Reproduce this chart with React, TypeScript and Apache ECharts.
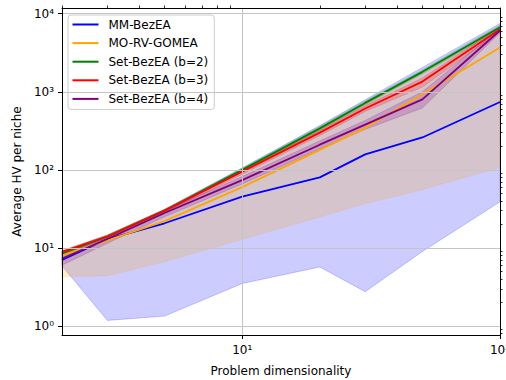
import React, { useEffect, useRef } from "react";
import * as echarts from "echarts";

const xs = [2, 3, 5, 10, 20, 30, 50, 100];

const names = ["MM-BezEA", "MO-RV-GOMEA", "Set-BezEA (b=2)", "Set-BezEA (b=3)", "Set-BezEA (b=4)"];
const colors = ["#0000ff", "#ffa500", "#008000", "#ff0000", "#800080"];
const bandColors = [
  "rgba(0,0,255,0.2)",
  "rgba(255,165,0,0.2)",
  "rgba(0,128,0,0.2)",
  "rgba(255,0,0,0.2)",
  "rgba(128,0,128,0.2)",
];

const mmMean = [7.0, 13.0, 20.7, 45.5, 80, 158, 260, 740];
const mmLow = [5.9, 1.18, 1.34, 3.5, 5.7, 2.75, 9, 39];
const mmHigh = [9.0, 14.5, 31, 106, 370, 790, 2050, 7500];

const moMean = [8.0, 12.5, 22, 60, 180, 345, 930, 3700];
const moLow = [4.3, 4.4, 6.7, 12.9, 25, 37, 56, 108];
const moHigh = [8.4, 14, 30, 98, 330, 700, 1750, 6600];

const b2Mean = [8.6, 14, 30, 100, 340, 720, 1800, 6700];
const b2Low = [8.1, 13.3, 28.5, 95, 320, 680, 1700, 6300];
const b2High = [9.1, 14.7, 31.5, 105, 360, 760, 1900, 7100];

const b3Mean = [8.9, 14, 30, 95, 300, 610, 1350, 6300];
const b3Low = [8.3, 13.2, 28, 88, 275, 560, 1150, 5900];
const b3High = [9.3, 14.6, 31, 100, 320, 660, 1500, 6700];

const b4Mean = [7.3, 13, 28, 74, 210, 380, 800, 6100];
const b4Low = [6.0, 11.5, 25, 66, 185, 330, 620, 5700];
const b4High = [8.4, 14, 30, 82, 235, 430, 1000, 6500];

const means = [mmMean, moMean, b2Mean, b3Mean, b4Mean];
const lows = [mmLow, moLow, b2Low, b3Low, b4Low];
const highs = [mmHigh, moHigh, b2High, b3High, b4High];

const xMajor = [10, 100];
const xMinor = [2, 3, 4, 5, 6, 7, 8, 9, 20, 30, 40, 50, 60, 70, 80, 90];
const yMajor = [1, 10, 100, 1000, 10000];
const yMinor = [
  0.8, 0.9, 2, 3, 4, 5, 6, 7, 8, 9, 20, 30, 40, 50, 60, 70, 80, 90,
  200, 300, 400, 500, 600, 700, 800, 900, 2000, 3000, 4000, 5000, 6000, 7000, 8000, 9000,
];
const sup = ["⁰", "¹", "²", "³", "⁴", "⁵"];

const X_MIN = 2;
const X_MAX = 100;
const Y_MIN = 0.767;
const Y_MAX = 11830;

const FONT = "DejaVu Sans";

function powLabel(v: number) {
  const e = Math.round(Math.log10(v));
  return "10" + (e >= 0 ? sup[e] : "");
}

export default function App() {
  const ref = useRef<HTMLDivElement>(null);
  useEffect(() => {
    if (!ref.current) return;
    const chart = echarts.init(ref.current, null, { renderer: "svg" });
    const series: any[] = [];
    for (let k = 0; k < names.length; k++) {
      const lo = lows[k];
      const hi = highs[k];
      series.push({
        type: "custom",
        name: names[k] + " band",
        xAxisIndex: 0,
        yAxisIndex: 0,
        data: [[xs[0], lo[0]]],
        silent: true,
        renderItem: (params: any, api: any) => {
          const pts: number[][] = [];
          for (let i = 0; i < xs.length; i++) pts.push(api.coord([xs[i], hi[i]]));
          for (let i = xs.length - 1; i >= 0; i--) pts.push(api.coord([xs[i], lo[i]]));
          return {
            type: "polygon",
            shape: { points: pts },
            style: { fill: bandColors[k], stroke: bandColors[k], lineWidth: 1 },
          };
        },
      });
      series.push({
        type: "line",
        name: names[k],
        xAxisIndex: 0,
        yAxisIndex: 0,
        data: xs.map((x, i) => [x, means[k][i]]),
        symbol: "none",
        lineStyle: { color: colors[k], width: 1.8 },
        itemStyle: { color: colors[k] },
      });
    }
    const baseX = { type: "log", min: X_MIN, max: X_MAX, gridIndex: 0 };
    const baseY = { type: "log", min: Y_MIN, max: Y_MAX, gridIndex: 0 };
    chart.setOption({
      animation: false,
      grid: { left: 62, right: 6, top: 8, bottom: 45, show: false, outerBoundsMode: "none", containLabel: false },
      legend: {
        data: names,
        orient: "vertical",
        left: 68,
        top: 15,
        padding: [3, 6, 4, 3.5],
        itemWidth: 26,
        itemHeight: 13,
        itemGap: 5.6,
        backgroundColor: "rgba(255,255,255,0.8)",
        borderColor: "#cccccc",
        borderWidth: 1,
        borderRadius: 3,
        itemStyle: { opacity: 0 },
        textStyle: { fontFamily: FONT, fontSize: 12, color: "#000", lineHeight: 13, padding: [0, 0, 0, 5] },
      },
      xAxis: [
        {
          ...baseX,
          name: "Problem dimensionality",
          nameLocation: "middle",
          nameGap: 30,
          nameTextStyle: { fontFamily: FONT, fontSize: 12, color: "#000" },
          z: 5,
          axisLine: { show: true, lineStyle: { color: "#000", width: 1 } },
          axisTick: { show: true, customValues: xMajor, length: 4, lineStyle: { color: "#000", width: 1 } },
          axisLabel: {
            customValues: xMajor,
            formatter: (v: number) => powLabel(v),
            fontFamily: FONT,
            fontSize: 12,
            color: "#000",
            margin: 9,
          },
          splitLine: { show: true, lineStyle: { color: "#c4c4c4", width: 1 } },
        },
        {
          ...baseX,
          z: 5,
          axisLine: { show: false },
          axisTick: { show: true, customValues: xMinor, length: 2.5, lineStyle: { color: "#000", width: 0.8 } },
          axisLabel: { show: false },
          splitLine: { show: false },
        },
        {
          ...baseX,
          position: "top",
          z: 5,
          axisLine: { show: true, onZero: false, lineStyle: { color: "#000", width: 1 } },
          axisTick: { show: false },
          axisLabel: { show: false },
          splitLine: { show: false },
        },
      ],
      yAxis: [
        {
          ...baseY,
          name: "Average HV per niche",
          nameLocation: "middle",
          nameGap: 37,
          nameTextStyle: { fontFamily: FONT, fontSize: 12, color: "#000" },
          z: 5,
          axisLine: { show: true, lineStyle: { color: "#000", width: 1 } },
          axisTick: { show: true, customValues: yMajor, length: 4, lineStyle: { color: "#000", width: 1 } },
          axisLabel: {
            customValues: yMajor,
            formatter: (v: number) => powLabel(v),
            fontFamily: FONT,
            fontSize: 12,
            color: "#000",
            margin: 8,
          },
          splitLine: { show: true, lineStyle: { color: "#c4c4c4", width: 1 } },
        },
        {
          ...baseY,
          z: 5,
          axisLine: { show: false },
          axisTick: { show: true, customValues: yMinor, length: 2.5, lineStyle: { color: "#000", width: 0.8 } },
          axisLabel: { show: false },
          splitLine: { show: false },
        },
        {
          ...baseY,
          position: "right",
          z: 5,
          axisLine: { show: true, onZero: false, lineStyle: { color: "#000", width: 1 } },
          axisTick: { show: false },
          axisLabel: { show: false },
          splitLine: { show: false },
        },
      ],
      series,
    });
    return () => chart.dispose();
  }, []);
  return <div ref={ref} style={{ width: 506, height: 380, position: "absolute", left: 0, top: 0 }} />;
}
